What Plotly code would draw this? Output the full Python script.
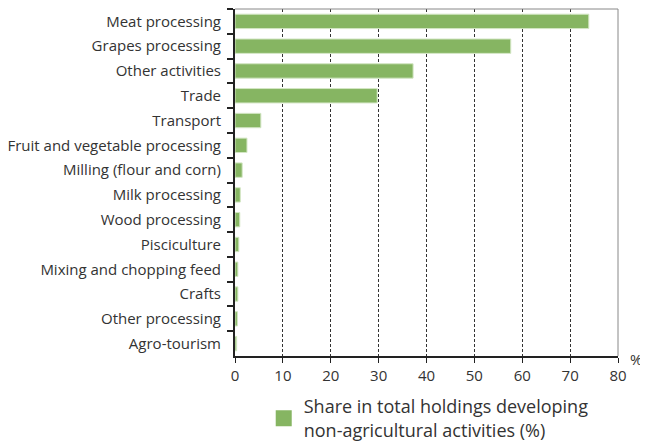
import plotly.graph_objects as go

activities = [
    "Meat processing", "Grapes processing", "Other activities", "Trade",
    "Transport", "Fruit and vegetable processing", "Milling (flour and corn)",
    "Milk processing", "Wood processing", "Pisciculture",
    "Mixing and chopping feed", "Crafts", "Other processing", "Agro-tourism",
]
share = [73.9, 57.6, 37.2, 29.7, 5.4, 2.5, 1.5, 1.1, 1.0, 0.8, 0.6, 0.6, 0.5, 0.35]
legend_name = "Share in total holdings developing<br>non-agricultural activities (%)"
bar_color = "#86b562"

trace1 = go.Bar(
    y=activities,
    x=share,
    orientation="h",
    showlegend=False,
    marker=dict(color=bar_color, line=dict(color="#d3e6c4", width=1)),
)
# legend entry with a bigger square
trace2 = go.Scatter(
    x=[None], y=[None], mode="markers", name=legend_name,
    marker=dict(symbol="square", size=16, color=bar_color),
)

fig = go.Figure(data=[trace1, trace2])
# page body has an 8px margin, so the figure is a bit smaller than the window
fig.update_layout(
    width=640, height=435,
    margin=dict(l=227, r=30, t=1, b=87, autoexpand=False),
    plot_bgcolor="#FFFFFF",
    paper_bgcolor="#FFFFFF",
    font=dict(family="Open Sans, Noto Sans, sans-serif", size=15, color="#333333"),
    bargap=0.42,
    showlegend=True,
    legend=dict(
        orientation="h", x=0.075, y=-0.093, xanchor="left", yanchor="top",
        font=dict(size=18, color="#333333"),
        itemwidth=30, tracegroupgap=0,
    ),
)
fig.update_xaxes(
    range=[0, 80], dtick=10, tick0=0,
    showgrid=True, gridcolor="#333333", gridwidth=1, griddash="3px,2px",
    showline=True, linecolor="#222222", linewidth=2,
    ticks="outside", ticklen=5, tickcolor="#222222", tickwidth=1,
    zeroline=False, automargin=False,
)
fig.update_yaxes(
    autorange="reversed", automargin=False,
    showline=True, linecolor="#222222", linewidth=2,
    ticks="outside", ticklen=6, tickcolor="#222222", tickwidth=2,
    tickson="boundaries", showgrid=False, ticklabelstandoff=9,
)
# grey frame on top and right
fig.add_shape(type="line", xref="paper", yref="paper", x0=0, x1=1, y0=1, y1=1,
              line=dict(color="#888888", width=1))
fig.add_shape(type="line", xref="paper", yref="paper", x0=1, x1=1, y0=0, y1=1,
              line=dict(color="#888888", width=1))
fig.add_annotation(text="%", xref="paper", yref="paper", x=1.026, y=0.0,
                   xanchor="left", yanchor="middle", yshift=-3, showarrow=False,
                   font=dict(size=15, color="#333333"))
fig.write_html("out.html")
